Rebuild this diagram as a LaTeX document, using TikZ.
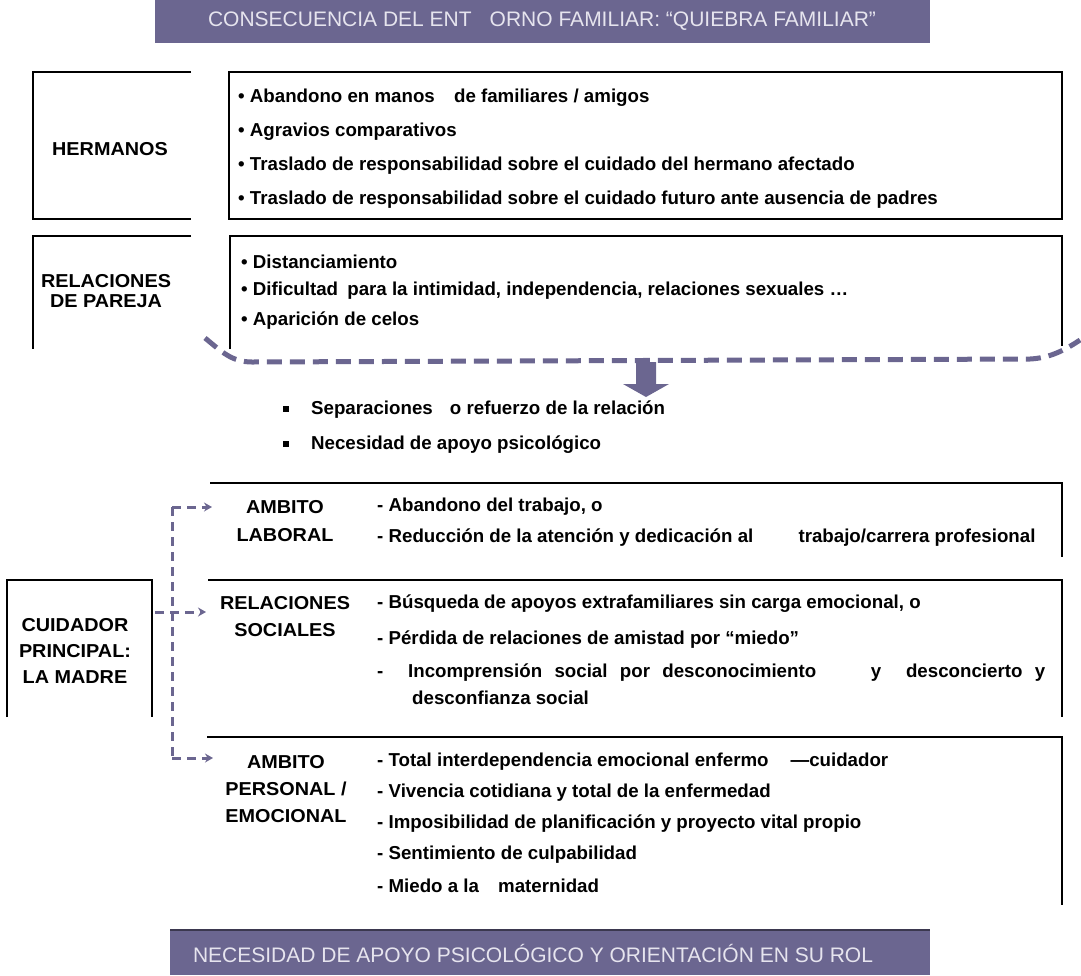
\documentclass[tikz,border=0pt]{standalone}
\usepackage{fontspec}
\setmainfont{Liberation Sans}
\newfontfamily\labelfont[FakeStretch=1.06]{Liberation Sans}
\usetikzlibrary{arrows.meta}
\definecolor{lila}{HTML}{6B6690}
\definecolor{lilatext}{HTML}{E6E4EE}

\begin{document}
\begin{tikzpicture}[x=1pt,y=-1pt,font=\fontsize{18.7}{20}\selectfont\bfseries,
  item/.style={anchor=west,inner sep=0pt},
  label/.style={align=center,inner sep=0pt,font=\labelfont\fontsize{18.7}{#1}\selectfont\bfseries},
  label/.default=26,
  frame/.style={line width=2.5pt},
  guide/.style={lila,line width=3pt,dash pattern=on 9pt off 6pt},
  tip/.style={-{Stealth[length=8pt,width=9pt]}},
  bandtext/.style={lilatext,font=\fontsize{21}{24}\selectfont,inner sep=0pt}]

\useasboundingbox (0,0) rectangle (1081,975);

\fill[lila] (155,0) rectangle (930,43);
\node[bandtext] (title) at (542,21) {CONSECUENCIA DEL ENT\hspace{18pt}ORNO FAMILIAR: ``QUIEBRA FAMILIAR''};

\draw[frame] (191,72) -- (33,72) -- (33,219) -- (191,219);
\draw[frame] (229,72) rectangle (1062,219);
\node[label] (hermanos) at (110,149) {HERMANOS};
\foreach \t [count=\i] in {Abandono en manos\hspace{14pt} de familiares / amigos,
  Agravios comparativos,
  Traslado de responsabilidad sobre el cuidado del hermano afectado,
  Traslado de responsabilidad sobre el cuidado futuro ante ausencia de padres}
  \node[item] (her\i) at (238,{64+34*\i}) {• \t};

\draw[frame] (191,236) -- (33,236) -- (33,349);
\draw[frame] (230,349) -- (230,236) -- (1062,236) -- (1062,346);
\node[label=20] (pareja) at (106,291) {RELACIONES\\DE PAREJA};
\foreach \t [count=\i] in {Distanciamiento,
  {Dificultad\hspace{4pt} para la intimidad, independencia, relaciones sexuales \ldots},
  Aparición de celos}
  \node[item] (par\i) at (241,{232+29.5*\i}) {• \t};

\coordinate (bl) at (205,338);
\coordinate (br) at (1080,340);
\draw[guide,line width=5pt,dash pattern=on 15pt off 8pt] (bl) .. controls (222,352) and (232,362) .. (252,362)
  -- (1030,359) .. controls (1050,358) and (1065,350) .. (br);
\fill[lila] (636,362) -- (656,362) -- (656,384) -- (669,384) -- (646,397) -- (623,384) -- (636,384) -- cycle;

\foreach \t [count=\i] in {Separaciones\hspace{12pt} o refuerzo de la relación,
  Necesidad de apoyo psicológico}
  \node[item] (sep\i) at (283,{375+35*\i}) {\rule[3pt]{6pt}{6pt}\hspace{22pt}\t};

\draw[frame] (210,483) -- (1062,483) -- (1062,557);
\node[label=28] (laboral) at (285,521) {AMBITO\\LABORAL};
\node[item] (lab1) at (377,507) {- Abandono del trabajo, o};
\node[item] (lab2) at (377,538) {- Reducción de la atención y dedicación al\hspace{40pt} trabajo/carrera profesional};

\draw[frame] (208,580) -- (1062,580) -- (1062,717);
\node[label=27] (sociales) at (285,617) {RELACIONES\\SOCIALES};
\node[item] (soc1) at (377,604) {- Búsqueda de apoyos extrafamiliares sin carga emocional, o};
\node[item] (soc2) at (377,640) {- Pérdida de relaciones de amistad por ``miedo''};
\node[item] (soc3) at (377,673) {\makebox[668pt][s]{- \ Incomprensión social por desconocimiento \hspace{30pt} y \ desconcierto y}};
\node[item] (soc4) at (412,698) {desconfianza social};

\draw[frame] (207,737) -- (1062,737) -- (1062,905);
\node[label=27] (personal) at (286,789) {AMBITO\\PERSONAL /\\EMOCIONAL};
\foreach \t [count=\i] in {- Total interdependencia emocional enfermo\hspace{22pt}—cuidador,
  - Vivencia cotidiana y total de la enfermedad,
  - Imposibilidad de planificación y proyecto vital propio,
  - Sentimiento de culpabilidad,
  - Miedo a la\hspace{14pt} maternidad}
  \node[item] (per\i) at (377,{731+31*\i}) {\t};

\draw[frame] (7,717) -- (7,580) -- (152,580) -- (152,717);
\node[label=26] (cuidador) at (75,651) {CUIDADOR\\PRINCIPAL:\\LA MADRE};

\coordinate (cuide) at (155,612);
\coordinate (jtop) at (172,507);
\coordinate (jbot) at (172,758);
\coordinate (labw) at (212,507);
\coordinate (socw) at (206,612);
\coordinate (perw) at (213,758);
\draw[guide] (jtop) -- (jbot);
\draw[guide,tip] (jtop) -- (labw);
\draw[guide,tip] (cuide) -- (socw);
\draw[guide,tip] (jbot) -- (perw);

\fill[lila] (170,930) rectangle (930,975);
\draw[lila!55!black,line width=1.5pt] (170,930) -- (930,930);
\node[bandtext] (necesidad) at (533,953) {NECESIDAD DE APOYO PSICOLÓGICO Y ORIENTACIÓN EN SU ROL};

\end{tikzpicture}
\end{document}
